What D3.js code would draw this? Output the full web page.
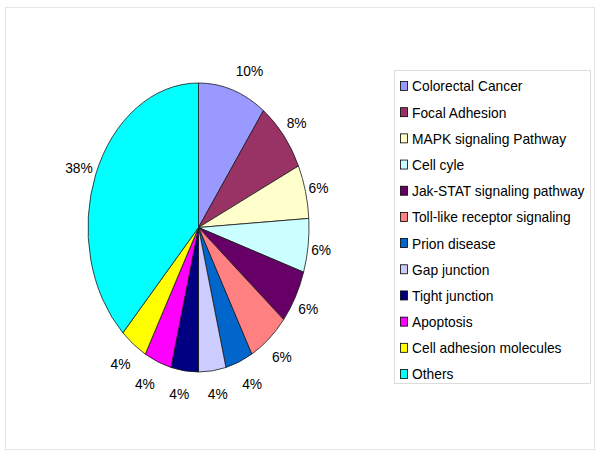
<!DOCTYPE html>
<html>
<head>
<meta charset="utf-8">
<script src="https://cdn.jsdelivr.net/npm/d3@7"></script>
<style>
  html, body { margin: 0; padding: 0; background: #fff; }
  svg { display: block; }
  text { font-family: "Liberation Sans", Arial, sans-serif; fill: #000; }
</style>
</head>
<body>
<svg id="chart" width="600" height="456"></svg>
<script>
const categories = [
  "Colorectal Cancer", "Focal Adhesion", "MAPK signaling Pathway", "Cell cyle",
  "Jak-STAT signaling pathway", "Toll-like receptor signaling", "Prion disease",
  "Gap junction", "Tight junction", "Apoptosis", "Cell adhesion molecules", "Others"
];
const values = [10, 8, 6, 6, 6, 6, 4, 4, 4, 4, 4, 38];
const colors = [
  "#9999FF", "#993366", "#FFFFCC", "#CCFFFF", "#660066", "#FF8080",
  "#0066CC", "#CCCCFF", "#000080", "#FF00FF", "#FFFF00", "#00FFFF"
];

const svg = d3.select("#chart");
const SX = 0.92; // horizontal squeeze of text seen in the reference

// outer frame
svg.append("rect")
  .attr("x", 5.5).attr("y", 7.5).attr("width", 589).attr("height", 442)
  .attr("fill", "none").attr("stroke", "#e6e6e6").attr("stroke-width", 1);

const cx = 198.5, cy = 227.5, rx = 110.5, ry = 144.5;
const R = 100;

const data = categories.map((c, i) => ({ name: c, value: values[i], color: colors[i] }));
const pie = d3.pie().value(d => d.value).sort(null);
const arcs = pie(data);
const arc = d3.arc().innerRadius(0).outerRadius(R);

const g = svg.append("g")
  .attr("transform", `translate(${cx},${cy}) scale(${rx / R},${ry / R})`);

g.selectAll("path.slice")
  .data(arcs)
  .enter().append("path")
  .attr("class", "slice")
  .attr("d", arc)
  .attr("fill", d => d.data.color)
  .attr("stroke", "#1a1a1a")
  .attr("stroke-width", 0.8)
  .attr("vector-effect", "non-scaling-stroke");

// labels
const fmt = d3.format(".0%");
const total = d3.sum(values);
const labels = svg.append("g");
arcs.forEach(a => {
  const th = (a.startAngle + a.endAngle) / 2;
  const s = Math.sin(th), c = Math.cos(th);
  const ex = cx + rx * s, ey = cy - ry * c;
  const t = labels.append("text")
    .attr("font-size", 15)
    .attr("text-anchor", "middle")
    .attr("dy", "0.36em")
    .text(fmt(a.data.value / total));
  const hw = t.node().getComputedTextLength() * SX / 2;
  const k = Math.max(-1, Math.min(1, s / 0.3));
  const lx = ex + (hw + 3) * k;
  const ly = ey - 22 * c + 1;
  t.attr("transform", `translate(${lx},${ly}) scale(${SX},1)`);
});

// legend
const lg = svg.append("g");
lg.append("rect")
  .attr("x", 394.5).attr("y", 70.5).attr("width", 196).attr("height", 313)
  .attr("fill", "#fff").attr("stroke", "#dcdcdc").attr("stroke-width", 1);

const rowY = d3.scalePoint().domain(categories).range([86, 374]);
const items = lg.selectAll("g.item").data(data).enter().append("g").attr("class", "item")
  .attr("transform", d => `translate(0,${rowY(d.name)})`);
items.append("rect")
  .attr("x", 400.5).attr("y", -4.5).attr("width", 7).attr("height", 9)
  .attr("fill", d => d.color).attr("stroke", "#000").attr("stroke-width", 0.8);
items.append("text")
  .attr("transform", `translate(412,0) scale(${SX},1)`)
  .attr("dy", "0.36em")
  .attr("font-size", 15)
  .text(d => d.name);
</script>
</body>
</html>
